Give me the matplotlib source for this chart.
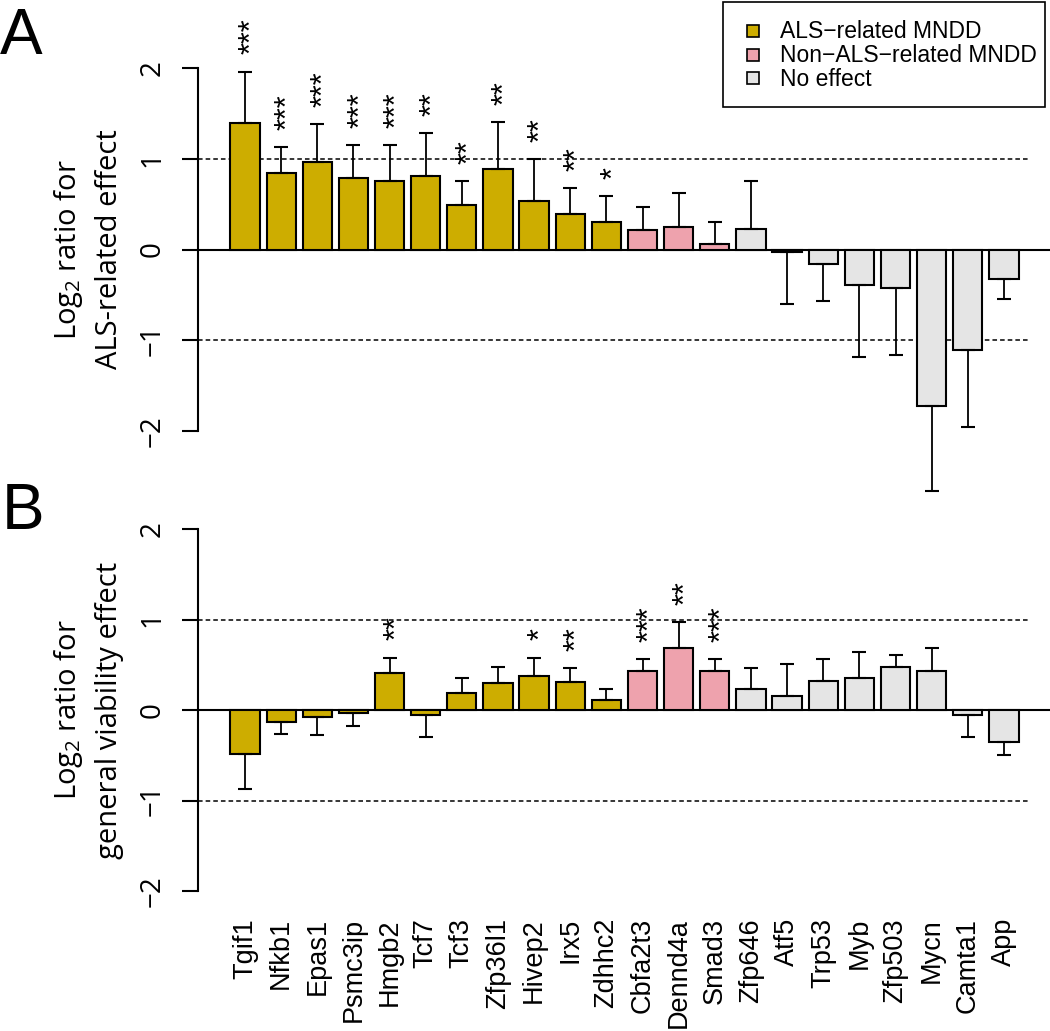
import matplotlib
matplotlib.use("Agg")
import matplotlib.pyplot as plt
import matplotlib.transforms as mtransforms
from matplotlib.patches import Rectangle

genes = ["Tgif1", "Nfkb1", "Epas1", "Psmc3ip", "Hmgb2", "Tcf7", "Tcf3",
         "Zfp36l1", "Hivep2", "Irx5", "Zdhhc2", "Cbfa2t3", "Dennd4a", "Smad3",
         "Zfp646", "Atf5", "Trp53", "Myb", "Zfp503", "Mycn", "Camta1", "App"]
groups = ["als"] * 11 + ["nonals"] * 3 + ["none"] * 8

# panel A: ALS-related effect
als_val = [1.39, 0.84, 0.96, 0.79, 0.75, 0.81, 0.49, 0.89, 0.53, 0.39, 0.30,
           0.22, 0.245, 0.066, 0.23, -0.025, -0.157, -0.39, -0.42, -1.72, -1.11, -0.32]
als_err = [0.57, 0.29, 0.42, 0.36, 0.40, 0.47, 0.26, 0.51, 0.47, 0.29, 0.29,
           0.25, 0.375, 0.234, 0.52, 0.575, 0.413, 0.80, 0.74, 0.94, 0.85, 0.23]
als_sig = ["***", "***", "***", "***", "***", "**", "**", "**", "**", "**", "*",
           "", "", "", "", "", "", "", "", "", "", ""]

# panel B: general viability effect
via_val = [-0.485, -0.13, -0.074, -0.037, 0.405, -0.06, 0.19, 0.30, 0.375, 0.305, 0.107,
           0.43, 0.68, 0.435, 0.235, 0.16, 0.32, 0.355, 0.47, 0.43, -0.06, -0.35]
via_err = [0.385, 0.13, 0.206, 0.143, 0.175, 0.24, 0.16, 0.17, 0.205, 0.16, 0.128,
           0.13, 0.29, 0.125, 0.225, 0.35, 0.24, 0.285, 0.14, 0.26, 0.24, 0.15]
via_sig = ["", "", "", "", "**", "", "", "", "*", "**", "",
           "***", "**", "***", "", "", "", "", "", "", "", ""]

colors = {"als": "#CDAD00", "nonals": "#EEA2AD", "none": "#E5E5E5"}
legend_keys = ["als", "nonals", "none"]
legend_labels = ["ALS\u2212related MNDD", "Non\u2212ALS\u2212related MNDD", "No effect"]

plt.rcParams['mathtext.fontset'] = 'custom'
plt.rcParams['mathtext.rm'] = 'Open Sans'
plt.rcParams['mathtext.it'] = 'Open Sans:italic'

fig = plt.figure(figsize=(10.5, 10.31), dpi=100)
W, H = 1050, 1031
XL = (-1.3005, 22.274)


def px(x, y):
    # figure pixels from top-left -> figure fraction
    return x / W, 1 - y / H


def draw_panel(ax, vals, errs, sig, ylim):
    x = list(range(len(vals)))
    ax.patch.set_visible(False)
    ax.set_xlim(*XL)
    ax.set_ylim(*ylim)
    ax.hlines([-1, 1], XL[0], 21.72, colors="black", linestyles=(0, (3, 2)),
              linewidth=1.1, zorder=1)
    ax.axhline(0, color="black", linewidth=1.5, zorder=1)
    ax.bar(x, vals, width=0.81, color=[colors[g] for g in groups],
           edgecolor="black", linewidth=1.5, zorder=2)
    lower = [e if v < 0 else 0 for v, e in zip(vals, errs)]
    upper = [e if v >= 0 else 0 for v, e in zip(vals, errs)]
    ax.errorbar(x, vals, yerr=[lower, upper], fmt="none", ecolor="black",
                elinewidth=1.3, capsize=5, capthick=1.5, zorder=3, clip_on=False)
    shift = mtransforms.offset_copy(ax.transData, fig=fig, x=5.5, y=0, units="points")
    for xi, v, e, s in zip(x, vals, errs, sig):
        if s:
            ax.text(xi, v + e + 0.19, s, rotation=90, ha="center", va="bottom",
                    fontsize=22, family="Liberation Sans", transform=shift)
    for sp in ["top", "right", "bottom"]:
        ax.spines[sp].set_visible(False)
    ax.spines["left"].set_bounds(-2, 2)
    ax.spines["left"].set_linewidth(1.5)
    ax.set_yticks([-2, -1, 0, 1, 2])
    ax.tick_params(axis="y", length=11.5, width=1.5, pad=11, labelsize=20,
                   labelrotation=90)
    for lab in ax.get_yticklabels():
        lab.set_family("Open Sans")
        lab.set_va("center")


ax_a = fig.add_axes([198 / W, 1 - 500 / H, (W - 198) / W, 500 / H])
ax_b = fig.add_axes([198 / W, 1 - 900 / H, (W - 198) / W, 430 / H])
ax_a.set_zorder(2)
draw_panel(ax_a, als_val, als_err, als_sig, ((249.5 - 500) / 90.75, 249.5 / 90.75))
ax_a.set_xticks([])

draw_panel(ax_b, via_val, via_err, via_sig, ((710 - 900) / 90.5, (710 - 470) / 90.5))
ax_b.set_xticks(range(len(genes)))
ax_b.set_xticklabels(genes, rotation=90, fontsize=19.5, family="Liberation Sans")
ax_b.tick_params(axis="x", length=0, pad=13)

fig.text(*px(88, 249.5), "Log$_2$ ratio for\nALS-related effect", rotation=90,
         ha="center", va="center", fontsize=21, family="Open Sans", linespacing=1.45)
fig.text(*px(88, 710), "Log$_2$ ratio for\ngeneral viability effect", rotation=90,
         ha="center", va="center", fontsize=21, family="Open Sans", linespacing=1.45)

fig.text(*px(0, 7), "A", ha="left", va="top", fontsize=46, family="Liberation Sans")
fig.text(*px(2, 482), "B", ha="left", va="top", fontsize=46, family="Liberation Sans")

# legend box, drawn like R's legend()
x0, y0 = px(723, 107)
x1, y1 = px(1045, 2)
fig.add_artist(Rectangle((x0, y0), x1 - x0, y1 - y0, transform=fig.transFigure,
                         facecolor="white", edgecolor="black", linewidth=1.2, zorder=5))
for k, (key, lab) in enumerate(zip(legend_keys, legend_labels)):
    yc = 30 + 23.5 * k
    mx, my = px(747, yc + 7)
    fig.add_artist(Rectangle((mx, my), 12 / W, 12 / H, transform=fig.transFigure,
                             facecolor=colors[key], edgecolor="black", linewidth=1.2,
                             zorder=6))
    fig.text(*px(780, yc + 2), lab, ha="left", va="center", fontsize=16.5,
             family="Liberation Sans", zorder=6)

fig.savefig("out.png", dpi=100)
